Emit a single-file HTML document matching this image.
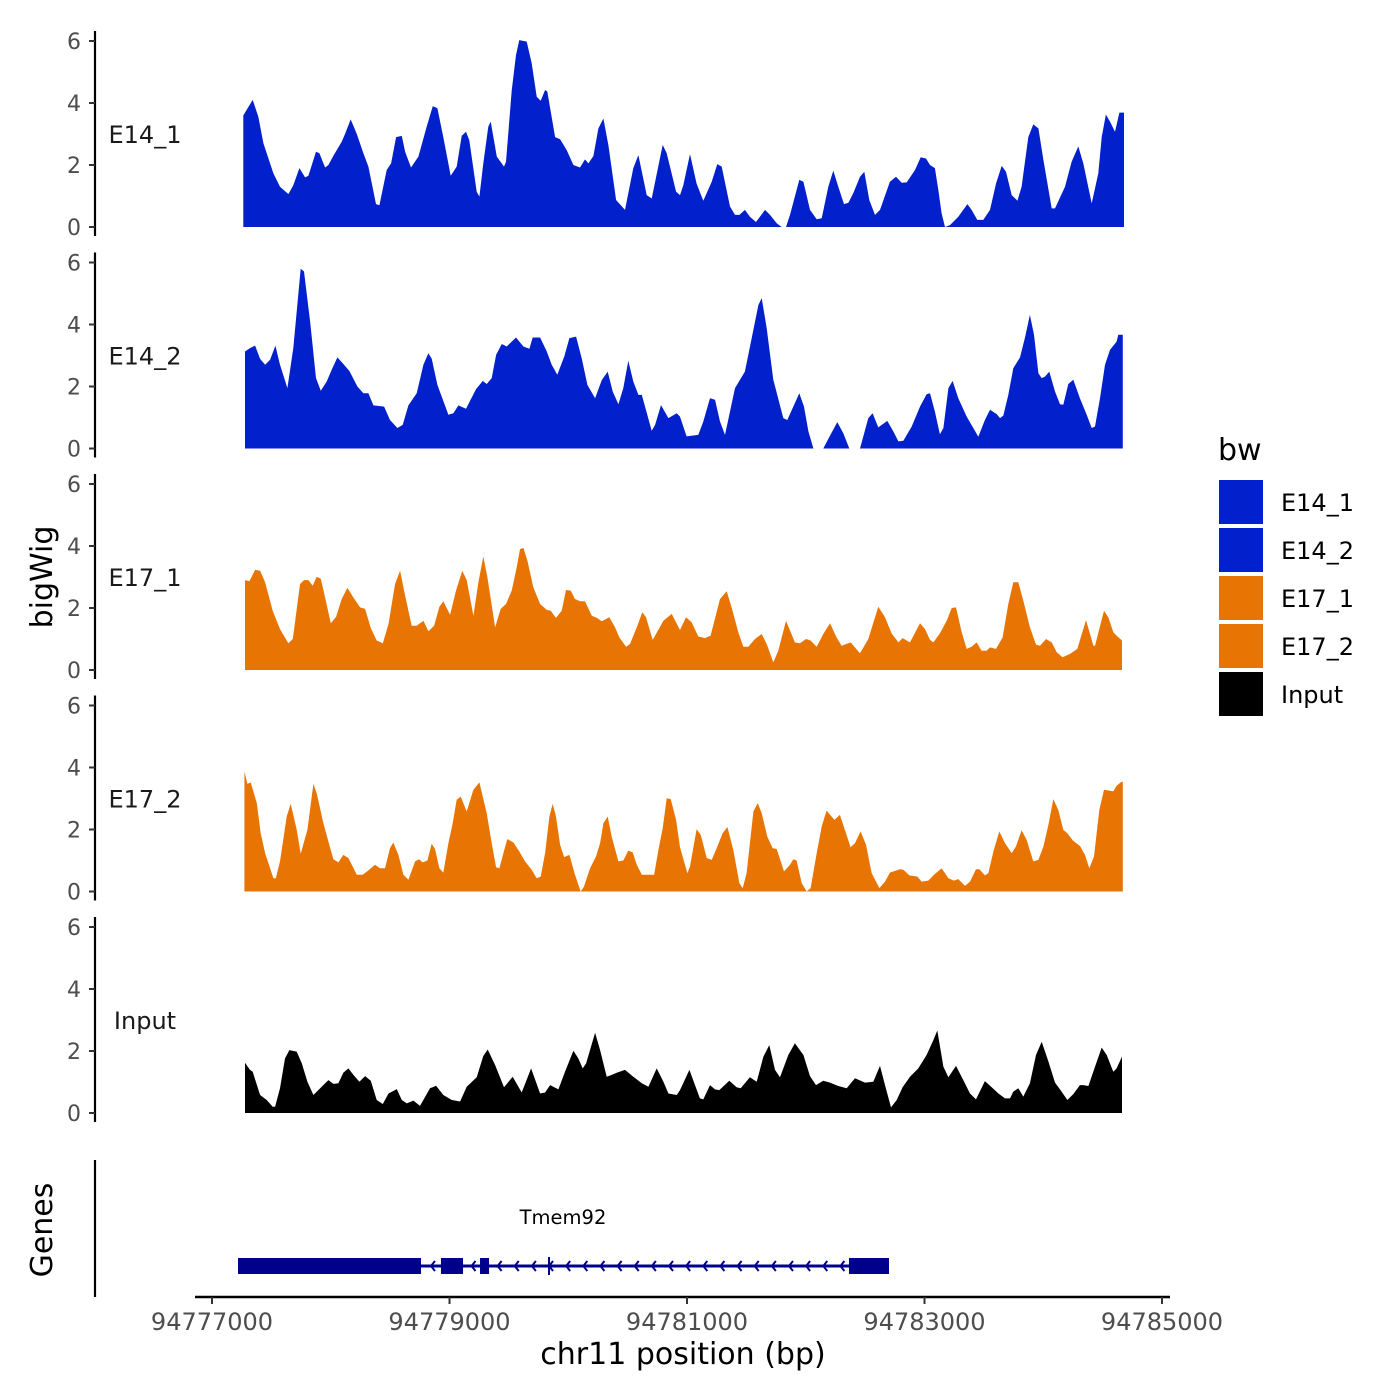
<!DOCTYPE html>
<html><head><meta charset="utf-8">
<style>
html,body{margin:0;padding:0;background:#fff;}
svg{display:block;font-family:"DejaVu Sans","Liberation Sans",sans-serif;}
</style></head>
<body>
<svg id="chart" width="1400" height="1400" viewBox="0 0 1400 1400" xmlns="http://www.w3.org/2000/svg">
<rect width="1400" height="1400" fill="#fff"/>
</svg>
<script>
const REGION_START = 94777000;
const trackNames = ["E14_1","E14_2","E17_1","E17_2","Input"];
const trackColors = ["#0320CD","#0320CD","#E87503","#E87503","#000000"];
const yTicks = [0,2,4,6];
const xTicks = [94777000,94779000,94781000,94783000,94785000];

const e14_1_pos = [264,343,391,433,517,573,643,685,736,784,812,876,904,952,980,1022,1092,1120,1168,1219,1275,1317,1381,1410,1471,1508,1550,1598,1626,1676,1738,1808,1859,1898,1948,2010,2061,2103,2139,2167,2229,2252,2285,2327,2347,2398,2459,2476,2524,2560,2588,2650,2692,2734,2768,2805,2824,2889,2931,2987,3043,3099,3141,3170,3212,3254,3296,3338,3403,3478,3548,3591,3661,3703,3795,3829,3908,
3941,3969,4025,4081,4137,4208,4255,4292,4362,4404,4441,4488,4530,4581,4657,4699,4755,4797,4815,4834,4867,4946,4980,5036,5092,5134,5190,5232,5274,5322,5359,5401,5457,5493,5535,5583,5625,5659,5709,5760,5808,5850,5920,5968,6013,6046,6088,6116,6144,6173,6215,6285,6361,6397,6445,6495,6552,6602,6650,6686,6734,6782,6818,6874,6916,6959,7001,7071,7099,7183,7239,7295,7337,7408,7464,7492,7528,7562,7604,7641,7680];
const e14_1_val = [3.6,4.1,3.55,2.7,1.73,1.3,1.06,1.35,1.9,1.6,1.65,2.43,2.38,1.92,2.0,2.3,2.75,3.0,3.47,3.0,2.38,1.95,0.74,0.7,1.84,2.05,2.9,2.94,2.43,1.92,2.27,3.24,3.9,3.83,2.9,1.65,1.95,2.94,3.07,2.8,1.14,0.98,2.05,3.24,3.4,2.27,1.95,2.1,4.4,5.55,6.03,5.98,5.28,4.2,4.07,4.42,4.37,2.9,2.83,2.48,2.0,1.92,2.18,2.05,2.29,3.18,3.5,2.64,0.87,0.55,1.9,2.32,1.03,0.92,2.65,2.38,1.14,
1.03,1.35,2.35,1.4,0.85,1.46,2.03,1.95,0.66,0.39,0.39,0.55,0.33,0.16,0.55,0.39,0.12,0,null,0,0.39,1.52,1.46,0.55,0.25,0.28,1.3,1.82,1.3,0.74,0.78,1.1,1.62,1.78,0.87,0.39,0.55,0.92,1.46,1.62,1.43,1.44,1.84,2.25,2.21,2.0,1.9,1.2,0.44,0,0.06,0.33,0.74,0.55,0.23,0.23,0.55,1.4,1.97,1.78,1.03,0.85,1.3,2.9,3.31,3.18,2.16,0.6,0.6,1.3,2.1,2.6,2.05,0.76,1.73,2.9,3.63,3.4,3.07,3.69,3.69];

const e14_2_pos = [278,320,363,405,447,489,534,573,635,685,747,775,826,876,916,966,1008,1056,1101,1157,1224,1275,1317,1359,1449,1499,1561,1606,1654,1724,1780,1822,1850,1898,1991,2033,2075,2139,2224,2280,2313,2355,2392,2440,2482,2560,2622,2673,2701,2763,2819,2861,2908,2967,3010,3066,3113,3161,3226,3282,3332,3374,3422,3464,3506,3548,3591,3619,3703,3731,3781,3843,3913,
3941,3997,4053,4095,4137,4194,4236,4278,4320,4404,4488,4545,4601,4629,4671,4727,4811,4845,4895,4946,4985,5022,5064,5100,5148,5190,5266,5316,5367,5400,5457,5527,5563,5611,5687,5737,5780,5822,5892,5962,6018,6046,6088,6130,6159,6201,6237,6285,6355,6411,6453,6509,6552,6608,6636,6664,6706,6748,6804,6846,6888,6922,6959,6987,7015,7051,7099,7141,7169,7211,7253,7309,7366,7408,7436,7478,7520,7562,7618,7632,7670];
const e14_2_val = [3.13,3.24,3.32,2.89,2.7,2.86,3.32,2.7,1.95,3.24,5.8,5.71,4.1,2.27,1.86,2.16,2.54,2.94,2.75,2.5,2.0,1.78,1.78,1.39,1.35,0.92,0.66,0.76,1.39,1.78,2.7,3.07,2.9,2.05,1.09,1.14,1.39,1.28,1.92,2.18,2.08,2.27,3.02,3.37,3.29,3.58,3.29,3.22,3.58,3.58,3.13,2.7,2.38,2.97,3.56,3.61,2.91,2.05,1.62,2.2,2.48,1.84,1.43,1.95,2.83,2.16,1.73,1.73,0.57,0.76,1.4,0.98,1.14,
1.03,0.39,0.42,0.44,0.87,1.62,1.57,0.87,0.44,1.95,2.48,3.56,4.63,4.85,3.88,2.22,0.98,0.92,1.35,1.78,1.35,0.55,0,null,0,0.31,0.85,0.49,0,null,0,0.98,1.14,0.68,0.89,0.55,0.23,0.25,0.71,1.35,1.75,1.78,1.19,0.46,0.66,1.95,2.18,1.62,1.03,0.66,0.38,0.92,1.25,1.11,0.98,1.06,1.73,2.59,2.94,3.58,4.31,3.67,2.43,2.27,2.32,2.48,1.84,1.43,1.41,2.08,2.22,1.62,1.09,0.66,0.71,1.62,2.7,3.18,3.45,3.67,3.67];

const e17_1_pos = [278,315,363,405,447,511,573,643,680,741,775,812,848,882,916,952,1000,1045,1092,1140,1191,1247,1289,1337,1387,1438,1486,1541,1584,1626,1682,1724,1780,1822,1870,1915,1948,2005,2055,2108,2145,2201,2243,2285,2319,2384,2431,2476,2524,2566,2594,2622,2656,2706,2763,2819,2852,2897,2945,2981,3021,3057,3099,3141,3198,3240,3282,3346,3394,3431,3487,3520,3577,3624,3655,3711,3739,3801,3871,
3941,3992,4039,4095,4152,4199,4278,4334,4376,4432,4474,4516,4573,4629,4671,4727,4769,4834,4909,4952,5002,5041,5092,5148,5204,5260,5302,5378,5457,5527,5611,5667,5723,5780,5816,5878,5962,6004,6046,6074,6130,6187,6229,6265,6313,6355,6397,6439,6481,6523,6552,6602,6658,6706,6748,6790,6832,6888,6939,6973,7023,7071,7113,7163,7225,7287,7360,7422,7436,7512,7548,7590,7618,7663];
const e17_1_val = [2.9,2.86,3.23,3.2,2.83,1.91,1.32,0.86,1.0,2.77,2.9,2.9,2.72,3.01,2.94,2.34,1.51,1.72,2.29,2.65,2.34,2.02,1.97,1.35,0.95,0.86,1.48,2.77,3.2,2.4,1.43,1.43,1.59,1.25,1.43,2.04,2.22,1.78,2.56,3.2,2.9,1.75,2.83,3.66,2.99,1.38,1.97,2.13,2.56,3.31,3.9,3.94,3.53,2.67,2.13,1.94,1.91,1.68,1.91,2.58,2.56,2.29,2.22,2.22,1.75,1.68,1.57,1.7,1.38,1.05,0.75,0.84,1.38,1.86,1.7,0.97,1.16,1.59,1.81,
1.29,1.7,1.54,1.08,1.03,1.11,2.29,2.54,2.02,1.22,0.75,0.75,1.0,1.16,0.84,0.25,0.62,1.59,0.89,0.86,1.0,0.95,0.75,1.16,1.51,1.05,0.78,0.89,0.54,1.0,2.04,1.7,1.18,0.89,1.03,0.89,1.51,1.32,0.97,0.89,1.18,1.59,2.0,2.02,1.22,0.68,0.75,0.89,0.62,0.62,0.73,0.68,1.05,2.13,2.83,2.83,2.24,1.38,0.82,0.78,1.0,0.89,0.57,0.41,0.52,0.68,1.61,0.78,0.78,1.91,1.7,1.22,1.11,0.95];

const e17_2_pos = [273,298,326,377,410,447,517,537,573,629,663,713,747,803,854,882,938,980,1022,1064,1106,1149,1219,1269,1317,1373,1415,1457,1499,1527,1570,1612,1654,1710,1744,1774,1814,1850,1878,1915,1948,1991,2027,2061,2094,2145,2201,2252,2313,2355,2392,2420,2454,2487,2538,2588,2636,2692,2734,2768,2805,2841,2869,2897,2931,2965,3010,3057,3105,3133,3184,3234,3268,3296,3332,3366,3422,3464,3506,3543,3577,3619,3723,3759,3795,3829,3863,3908,
3941,4003,4025,4081,4115,4166,4208,4250,4300,4340,4390,4441,4469,4502,4559,4595,4629,4676,4721,4755,4817,4867,4895,4923,4966,5008,5041,5092,5134,5176,5241,5288,5339,5378,5415,5462,5507,5555,5620,5667,5709,5794,5822,5872,5940,5976,6032,6080,6144,6201,6248,6285,6341,6383,6434,6462,6509,6537,6580,6630,6678,6734,6770,6818,6860,6916,6959,7001,7043,7085,7127,7169,7203,7248,7309,7352,7388,7427,7472,7512,7548,7590,7618,7652,7670];
const e17_2_val = [3.87,3.47,3.52,2.85,1.88,1.24,0.43,0.43,0.97,2.42,2.83,1.99,1.22,1.99,3.47,3.17,2.2,1.61,1.04,0.94,1.18,1.08,0.54,0.54,0.68,0.86,0.75,0.75,1.4,1.58,1.18,0.54,0.38,0.97,1.04,0.94,1.0,1.54,1.37,0.75,0.61,1.56,2.2,2.96,3.06,2.58,3.28,3.52,2.53,1.56,0.78,0.75,1.24,1.69,1.58,1.29,0.97,0.7,0.43,0.48,1.24,2.42,2.83,2.42,1.51,1.11,1.18,0.54,0,0.16,0.75,1.13,1.56,2.2,2.42,1.77,0.97,1.0,1.32,1.26,0.86,0.54,0.54,1.34,2.04,3.01,2.98,2.31,
1.43,0.59,0.81,2.01,1.83,1.08,1.02,1.4,1.88,2.08,1.34,0.27,0.11,0.59,2.58,2.85,2.53,1.77,1.4,1.37,0.65,0.86,1.04,1.0,0.27,0,0.11,1.24,2.1,2.61,2.31,2.47,1.88,1.43,1.56,1.94,1.51,0.59,0.11,0.32,0.61,0.72,0.7,0.52,0.48,0.32,0.35,0.54,0.75,0.43,0.35,0.4,0.18,0.32,0.72,0.72,0.52,0.59,1.29,1.94,1.56,1.24,1.45,1.97,1.67,0.97,1.02,1.45,2.15,2.98,2.63,1.99,1.88,1.65,1.47,1.18,0.75,1.13,2.63,3.28,3.26,3.23,3.41,3.52,3.55];

const input_pos = [278,320,343,405,461,511,531,573,615,652,713,756,803,854,924,980,1022,1064,1106,1149,1191,1241,1289,1337,1387,1438,1486,1556,1598,1640,1696,1752,1836,1887,1948,2019,2089,2145,2229,2285,2322,2384,2459,2532,2608,2687,2763,2805,2847,2917,2973,3043,3085,3122,3150,3226,3268,3324,3366,3408,3478,3548,3619,3675,3745,3801,3843,3913,
3941,4020,4067,4109,4137,4194,4236,4272,4356,4418,4452,4530,4587,4643,4693,4741,4783,4853,4909,4980,5036,5086,5148,5204,5274,5345,5415,5499,5569,5625,5667,5718,5766,5816,5878,5948,6018,6074,6108,6159,6201,6265,6327,6383,6434,6509,6566,6622,6678,6720,6748,6790,6832,6888,6939,6987,7043,7099,7141,7203,7253,7309,7337,7380,7436,7492,7534,7590,7618,7663];
const input_val = [1.62,1.39,1.33,0.58,0.42,0.2,0.2,0.8,1.76,2.03,1.98,1.6,1.01,0.58,0.85,1.06,0.94,0.96,1.3,1.44,1.23,1.01,1.19,1.04,0.42,0.29,0.63,0.77,0.42,0.31,0.4,0.23,0.8,0.88,0.58,0.42,0.37,0.85,1.15,1.84,2.05,1.55,0.83,1.17,0.66,1.44,0.63,0.66,0.9,0.76,1.33,2.01,1.76,1.44,1.6,2.59,2.03,1.17,1.23,1.3,1.39,1.17,0.96,0.85,1.44,1.01,0.63,0.58,
0.74,1.39,0.9,0.47,0.44,0.9,0.76,0.74,1.04,0.83,0.8,1.15,1.01,1.82,2.19,1.39,1.15,1.87,2.25,1.87,1.19,0.9,1.04,0.98,0.87,0.8,1.12,0.98,1.01,1.52,0.9,0.18,0.42,0.83,1.17,1.44,1.87,2.35,2.66,1.49,1.15,1.52,1.06,0.63,0.44,1.03,0.83,0.63,0.47,0.47,0.69,0.8,0.53,0.96,1.87,2.3,1.66,0.98,0.76,0.42,0.61,0.9,0.9,0.87,1.49,2.11,1.87,1.33,1.44,1.82];

const geneName = "Tmem92";
const geneStart = 219, geneEnd = 5701;
const exonStarts = [219,1928,2257,5364];
const exonEnds = [1760,2114,2333,5701];
const geneTss = 2838;

const trackPos = [e14_1_pos,e14_2_pos,e17_1_pos,e17_2_pos,input_pos];
const trackVal = [e14_1_val,e14_2_val,e17_1_val,e17_2_val,input_val];

const NS = "http://www.w3.org/2000/svg";
const svg = document.getElementById("chart");
function el(tag, attrs, parent){
  const e = document.createElementNS(NS, tag);
  for (const k in attrs) e.setAttribute(k, attrs[k]);
  (parent||svg).appendChild(e);
  return e;
}
function xScale(bp){ return 212 + (bp - REGION_START) * 0.11875; }
function baseY(i){ return 227 + i * 221.5; }
function yScale(v, i){ return baseY(i) - v * 31; }

for (let i = 0; i < trackNames.length; i++) {
  const g = el("g", {});
  
  
  const pos = trackPos[i], val = trackVal[i];
  const b = baseY(i);
  let d = "", seg = [];
  const flush = () => {
    if (seg.length) {
      d += "M" + seg[0][0].toFixed(1) + "," + b;
      seg.forEach(p => { d += "L" + p[0].toFixed(1) + "," + p[1].toFixed(1); });
      d += "L" + seg[seg.length-1][0].toFixed(1) + "," + b + "Z";
    }
    seg = [];
  };
  for (let j = 0; j < pos.length; j++) {
    if (val[j] === null) { flush(); continue; }
    seg.push([xScale(REGION_START + pos[j]), yScale(val[j], i)]);
  }
  flush();
  const area = el("path", {d: d, fill: trackColors[i]}, g);
  
  

  const ax = el("line", {x1: 95, x2: 95, y1: b - 196, y2: b + 9, stroke: "#000", "stroke-width": 2.2}, g);
  
  
  yTicks.forEach(t => {
    const y = yScale(t, i);
    const tk = el("line", {x1: 89, x2: 95, y1: y, y2: y, stroke: "#333", "stroke-width": 2}, g);
    
    
    const tl = el("text", {x: 81, y: y + 8, "text-anchor": "end", "font-size": 22, fill: "#4d4d4d"}, g);
    
    
    tl.textContent = t;
  });
  const lab = el("text", {x: 145, y: yScale(3, i) + 9, "text-anchor": "middle", "font-size": 24, fill: "#1a1a1a"}, g);
  
  
  lab.textContent = trackNames[i];
}

const yt = el("text", {x: 52, y: 577, "text-anchor": "middle", "font-size": 30, fill: "#000", transform: "rotate(-90 52 577)"});


yt.textContent = "bigWig";

const gg = el("g", {});


const gax = el("line", {x1: 95, x2: 95, y1: 1160, y2: 1297, stroke: "#000", "stroke-width": 2.2}, gg);


const gt = el("text", {x: 52, y: 1230, "text-anchor": "middle", "font-size": 30, fill: "#000", transform: "rotate(-90 52 1230)"}, gg);


gt.textContent = "Genes";
const gy = 1266;
const gl = el("line", {x1: xScale(REGION_START + geneStart), x2: xScale(REGION_START + geneEnd), y1: gy, y2: gy, stroke: "#00008B", "stroke-width": 3}, gg);


for (let k = 0; k < exonStarts.length; k++) {
  const x1 = xScale(REGION_START + exonStarts[k]), x2 = xScale(REGION_START + exonEnds[k]);
  const ex = el("rect", {x: x1, y: gy - 8, width: x2 - x1, height: 16, fill: "#00008B"}, gg);
  
  
}
for (let k = 0; k < exonStarts.length - 1; k++) {
  const a = exonEnds[k], bEnd = exonStarts[k + 1];
  const step = 143;
  const n = Math.max(1, Math.floor((bEnd - a) / step));
  for (let m = 0; m < n; m++) {
    const bp = a + (bEnd - a) * (m + 0.5) / n;
    const x = xScale(REGION_START + bp);
    const ch = el("path", {d: "M" + (x + 4) + "," + (gy - 5) + "L" + x + "," + gy + "L" + (x + 4) + "," + (gy + 5), stroke: "#00008B", "stroke-width": 2, fill: "none"}, gg);
    
    
  }
}
const tss = el("line", {x1: xScale(REGION_START + geneTss), x2: xScale(REGION_START + geneTss), y1: gy - 9, y2: gy + 9, stroke: "#00008B", "stroke-width": 2}, gg);


const gn = el("text", {x: 563, y: 1224, "text-anchor": "middle", "font-size": 19.5, fill: "#000"}, gg);


gn.textContent = geneName;

const xa = el("line", {x1: 195, x2: 1170, y1: 1297, y2: 1297, stroke: "#000", "stroke-width": 2.4});


xTicks.forEach(t => {
  const x = xScale(t);
  const tk = el("line", {x1: x, x2: x, y1: 1297, y2: 1304, stroke: "#333", "stroke-width": 2});
  
  
  const tl = el("text", {x: x, y: 1330, "text-anchor": "middle", "font-size": 24, fill: "#4d4d4d"});
  
  
  tl.textContent = t;
});
const xt = el("text", {x: 683, y: 1364, "text-anchor": "middle", "font-size": 30, fill: "#000"});


xt.textContent = "chr11 position (bp)";

const lg = el("g", {});


const lt = el("text", {x: 1218, y: 460, "font-size": 30, fill: "#000"}, lg);


lt.textContent = "bw";
trackNames.forEach((n, i) => {
  const y = 480 + i * 48;
  const r = el("rect", {x: 1219, y: y, width: 44, height: 44, fill: trackColors[i]}, lg);
  
  
  const t = el("text", {x: 1281, y: y + 31, "font-size": 24, fill: "#000"}, lg);
  
  
  t.textContent = n;
});
</script>
</body></html>
